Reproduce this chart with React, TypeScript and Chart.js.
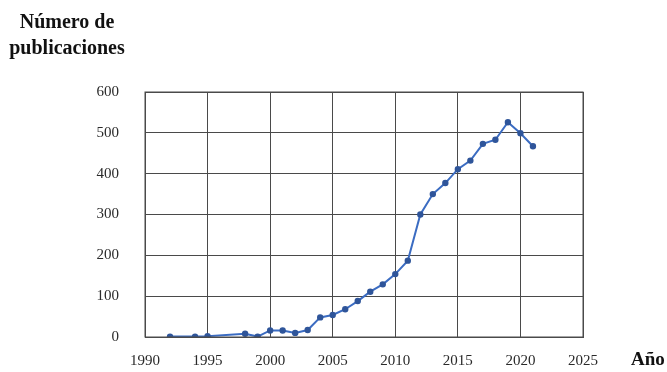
import React, { useEffect, useRef } from "react";
import { Chart, registerables } from "chart.js";

Chart.register(...registerables);

const years = [1992, 1994, 1995, 1998, 1999, 2000, 2001, 2002, 2003, 2004, 2005, 2006, 2007, 2008, 2009, 2010, 2011, 2012, 2013, 2014, 2015, 2016, 2017, 2018, 2019, 2020, 2021];
const publicaciones = [1, 1, 2, 8, 1, 16, 16, 10, 17, 48, 54, 68, 88, 111, 129, 154, 187, 300, 350, 377, 411, 432, 473, 483, 526, 499, 467];
const yTitle = ["Número de", "publicaciones"];
const xTitle = "Año";

const serif = "'Liberation Serif', 'DejaVu Serif', serif";

export default function App() {
  const ref = useRef<HTMLCanvasElement>(null);
  useEffect(() => {
    document.body.style.margin = "0";
    const ctx = ref.current!;
    const chart = new Chart(ctx, {
      type: "line",
      data: {
        datasets: [
          {
            data: years.map((y, i) => ({ x: y, y: publicaciones[i] })),
            borderColor: "#3b6cc2",
            backgroundColor: "#2f559a",
            pointBackgroundColor: "#2f559a",
            pointBorderColor: "#2f559a",
            pointRadius: 2.2,
            borderWidth: 2,
            tension: 0,
          },
        ],
      },
      options: {
        animation: false,
        responsive: true,
        maintainAspectRatio: false,
        layout: { padding: { left: 0, right: 84, top: 92, bottom: 0 } },
        plugins: { legend: { display: false }, tooltip: { enabled: false } },
        scales: {
          x: {
            type: "linear",
            min: 1990,
            max: 2025,
            afterFit: (s: any) => { s.height = 34; },
            ticks: { stepSize: 5, padding: 15, color: "#2a2a2a", font: { family: serif, size: 15 }, callback: (v: any) => String(v) },
            grid: { color: "#4a4a4a", lineWidth: 1, drawTicks: false },
            border: { color: "#4a4a4a", width: 1 },
          },
          y: {
            min: 0,
            max: 600,
            afterFit: (s: any) => { s.width = 145; },
            ticks: { stepSize: 100, padding: 26, color: "#2a2a2a", font: { family: serif, size: 15 } },
            grid: { color: "#4a4a4a", lineWidth: 1, drawTicks: false },
            border: { color: "#4a4a4a", width: 1 },
          },
        },
      },
      plugins: [
        {
          id: "frame",
          afterDraw(c: any) {
            const { left, right, top, bottom } = c.chartArea;
            const g = c.ctx;
            g.save();
            g.strokeStyle = "#4a4a4a";
            g.lineWidth = 1;
            g.strokeRect(left, top, right - left, bottom - top);
            g.restore();
          },
        },
      ],
    });
    return () => chart.destroy();
  }, []);
  const titleStyle: React.CSSProperties = {
    position: "absolute",
    fontFamily: serif,
    fontWeight: "bold",
    fontSize: 20,
    color: "#111",
    whiteSpace: "nowrap",
  };
  return (
    <div style={{ position: "fixed", left: 0, top: 0, width: 667, height: 372, background: "#fff" }}>
      <canvas ref={ref} />
      <div style={{ ...titleStyle, left: 0, width: 134, top: 8, textAlign: "center", lineHeight: "26px" }}>
        {yTitle[0]}
        <br />
        {yTitle[1]}
      </div>
      <div style={{ ...titleStyle, fontSize: 19, left: 631, top: 348 }}>{xTitle}</div>
    </div>
  );
}
